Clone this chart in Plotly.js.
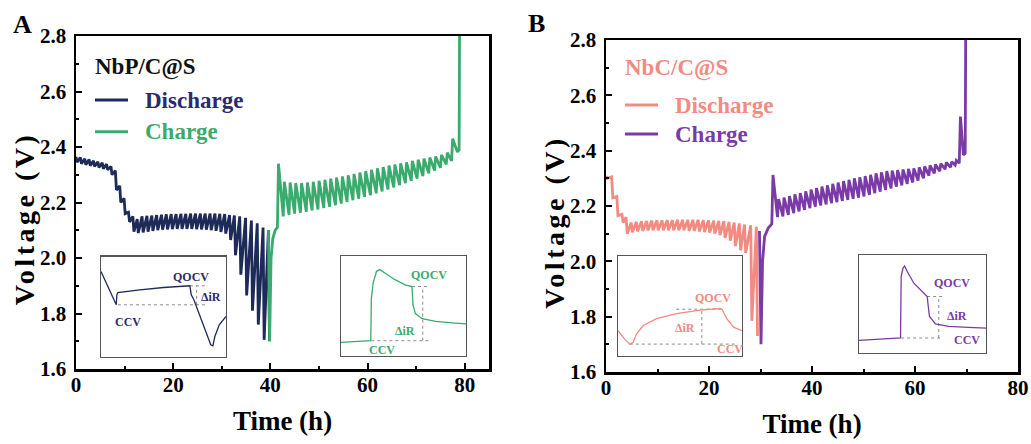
<!DOCTYPE html>
<html>
<head>
<meta charset="utf-8">
<script src="https://cdn.plot.ly/plotly-3.0.1.min.js"></script>
<style>
html,body{margin:0;padding:0;background:#fff;}
#chart{width:1031px;height:444px;}
.ytitle,.y2title{letter-spacing:3.5px;translate:7px 16px;}
</style>
</head>
<body>
<div id="chart"></div>
<script>
// ---------------- Data ----------------
// Panel A: NbP/C@S  — GITT pulses: start time (h), voltage before pulse, voltage at end of pulse
const aDisT   = [0.0,0.9,1.8,2.7,3.6,4.5,5.4,6.3,7.2,8.1,9.0,9.9,10.8,11.7,12.6,13.6,14.6,15.6,16.6,17.6,18.6,19.6,20.6,21.6,22.6,23.6,24.6,25.6,26.6,27.6,28.6,29.6,30.6,31.6,32.6,33.7,34.9,36.1,37.3,38.5,39.6];
const aDisOCV = [2.365,2.362,2.358,2.355,2.350,2.347,2.343,2.338,2.330,2.315,2.260,2.215,2.165,2.150,2.140,2.150,2.152,2.153,2.155,2.156,2.157,2.158,2.158,2.159,2.159,2.160,2.160,2.160,2.160,2.160,2.160,2.159,2.158,2.155,2.153,2.150,2.145,2.135,2.125,2.110,2.100];
const aDisCCV = [2.345,2.340,2.336,2.333,2.330,2.326,2.322,2.318,2.300,2.245,2.200,2.160,2.130,2.095,2.090,2.092,2.095,2.098,2.100,2.102,2.103,2.104,2.105,2.105,2.105,2.105,2.104,2.103,2.102,2.100,2.098,2.094,2.088,2.065,2.010,1.940,1.865,1.810,1.760,1.705,1.700];

const aChgLeadT = [39.6,39.85,40.15,40.5,41.0,41.45];
const aChgLeadV = [2.10,1.70,2.00,2.07,2.10,2.11];
const aChgT   = [41.45,42.65,43.85,45.0,46.2,47.4,48.6,49.8,51.0,52.2,53.4,54.6,55.8,57.0,58.2,59.4,60.6,61.8,63.0,64.2,65.4,66.6,67.8,69.0,70.2,71.4,72.6,73.8,75.0,76.2,77.3];
const aChgOCV = [2.110,2.150,2.155,2.160,2.163,2.167,2.171,2.175,2.180,2.185,2.190,2.196,2.202,2.208,2.214,2.220,2.226,2.233,2.240,2.247,2.254,2.262,2.270,2.278,2.286,2.295,2.305,2.315,2.325,2.337,2.350];
const aChgCCV = [2.340,2.275,2.272,2.270,2.270,2.272,2.275,2.278,2.282,2.286,2.290,2.294,2.298,2.303,2.308,2.313,2.318,2.323,2.328,2.333,2.337,2.341,2.345,2.350,2.354,2.358,2.362,2.366,2.372,2.380,2.430];
const aChgTailT = [78.5,78.85,78.95];
const aChgTailV = [2.382,2.390,2.850];

// Panel B: NbC/C@S
const bDisT   = [0.0,1.1,2.1,3.1,3.9,4.9,5.9,6.9,7.9,8.9,9.9,10.9,11.9,12.9,13.9,14.9,15.9,16.9,17.9,18.9,19.9,20.9,21.9,22.9,23.9,24.9,25.9,26.9,28.1,29.2];
const bDisOCV = [2.308,2.305,2.235,2.170,2.160,2.140,2.143,2.145,2.146,2.147,2.148,2.148,2.149,2.149,2.150,2.150,2.150,2.150,2.150,2.149,2.148,2.147,2.146,2.145,2.143,2.140,2.137,2.133,2.130,2.125];
const bDisCCV = [2.300,2.230,2.165,2.140,2.100,2.105,2.108,2.110,2.112,2.112,2.112,2.112,2.112,2.112,2.112,2.112,2.110,2.110,2.108,2.106,2.104,2.100,2.095,2.085,2.075,2.055,2.040,2.030,1.785,1.730];

const bChgLeadT = [29.8,30.1,30.4,30.8,31.5,32.2];
const bChgLeadV = [2.11,1.70,2.00,2.09,2.12,2.135];
const bChgT   = [32.2,33.3,34.35,35.4,36.45,37.5,38.55,39.6,40.65,41.7,42.75,43.8,44.85,45.9,46.95,48.0,49.05,50.1,51.15,52.2,53.25,54.3,55.35,56.4,57.45,58.5,59.55,60.6,61.65,62.7,63.75,64.8,65.85,66.9,67.8,68.6];
const bChgOCV = [2.135,2.160,2.162,2.168,2.174,2.180,2.186,2.192,2.198,2.202,2.206,2.210,2.214,2.218,2.222,2.226,2.230,2.235,2.240,2.246,2.252,2.258,2.264,2.270,2.275,2.280,2.285,2.292,2.300,2.310,2.318,2.326,2.333,2.340,2.348,2.355];
const bChgCCV = [2.312,2.225,2.230,2.236,2.242,2.247,2.253,2.259,2.265,2.270,2.275,2.280,2.285,2.290,2.295,2.300,2.304,2.308,2.313,2.318,2.322,2.326,2.328,2.330,2.332,2.334,2.336,2.340,2.343,2.347,2.350,2.353,2.357,2.360,2.365,2.523];
const bChgTailT = [69.4,69.75,69.85];
const bChgTailV = [2.385,2.390,2.850];

const pulseHours = 0.22;

// Schematic insets (normalised 0..1 inside each box)
const insA1X = [0,0.122,0.127,0.135,0.311,0.5,0.711,0.722,0.743,0.878,0.895,0.911,0.946,1.0];
const insA1Y = [0.85,0.517,0.617,0.64,0.667,0.69,0.707,0.617,0.567,0.117,0.107,0.2,0.317,0.40];
const insA1GX = [0.135,0.838,null,0.711,0.838,null,0.765,0.765];
const insA1GY = [0.517,0.517,null,0.707,0.707,null,0.517,0.707];

const insA2X = [0,0.238,0.243,0.257,0.284,0.311,0.351,0.432,0.514,0.568,0.576,0.595,0.649,0.757,0.892,1.0];
const insA2Y = [0.136,0.153,0.576,0.729,0.847,0.864,0.83,0.763,0.712,0.695,0.508,0.424,0.373,0.346,0.332,0.322];
const insA2GX = [0.568,0.703,null,0.243,0.703,null,0.654,0.654];
const insA2GY = [0.695,0.695,null,0.153,0.153,null,0.153,0.695];

const insB1X = [0,0.054,0.095,0.122,0.149,0.203,0.311,0.473,0.662,0.824,0.838,0.878,0.932,1.0];
const insB1Y = [0.254,0.169,0.119,0.136,0.22,0.305,0.373,0.424,0.458,0.475,0.468,0.373,0.288,0.254];
const insB1GX = [0.095,0.97,null,0.47,0.83,null,0.676,0.676];
const insB1GY = [0.119,0.119,null,0.468,0.468,null,0.119,0.468];

const insB2X = [0,0.327,0.332,0.346,0.359,0.380,0.432,0.497,0.537,0.545,0.555,0.602,0.707,0.864,1.0];
const insB2Y = [0.129,0.153,0.78,0.864,0.888,0.831,0.712,0.627,0.576,0.48,0.373,0.298,0.271,0.261,0.254];
const insB2GX = [0.537,0.66,null,0.332,0.66,null,0.628,0.628];
const insB2GY = [0.576,0.576,null,0.153,0.153,null,0.153,0.576];

const insetLabels = ['QOCV','ΔiR','CCV'];
const insA1Pos = [[0.716,0.80],[0.878,0.60],[0.213,0.35]];
const insA2Pos = [[0.70,0.814],[0.51,0.254],[0.324,0.061]];
const insB1Pos = [[0.77,0.576],[0.54,0.278],[0.90,0.068]];
const insB2Pos = [[0.733,0.712],[0.77,0.38],[0.85,0.129]];

const sampleA = 'NbP/C@S', sampleB = 'NbC/C@S';
const seriesNames = ['Discharge','Charge'];

// ---------------- Styling ----------------
const W = 1031, H = 444;
const px = v => v / W, py = v => 1 - v / H;
const FONT = 'Liberation Serif, Times New Roman, serif';
const cNavy = '#1e2a58', cNavyTxt = '#2c2a6c', cGreen = '#3aab6d';
const cPink = '#f28b82', cPurple = '#7a3aa8';

function saw(t, v0, v1, leadT, leadV, tailT, tailV) {
  const x = leadT ? leadT.slice(0, -1) : [], y = leadV ? leadV.slice(0, -1) : [];
  for (let i = 0; i < t.length; i++) { x.push(t[i], t[i] + pulseHours); y.push(v0[i], v1[i]); }
  if (tailT) { x.push(...tailT); y.push(...tailV); }
  return {x, y};
}

const aD = saw(aDisT, aDisOCV, aDisCCV);
const aC = saw(aChgT, aChgOCV, aChgCCV, aChgLeadT, aChgLeadV, aChgTailT, aChgTailV);
const bD = saw(bDisT, bDisOCV, bDisCCV);
const bC = saw(bChgT, bChgOCV, bChgCCV, bChgLeadT, bChgLeadV, bChgTailT, bChgTailV);

const LW = 2.8;
const traces = [
  {x: aD.x, y: aD.y, xaxis: 'x', yaxis: 'y', mode: 'lines', name: seriesNames[0], line: {color: cNavy, width: LW}},
  {x: aC.x, y: aC.y, xaxis: 'x', yaxis: 'y', mode: 'lines', name: seriesNames[1], line: {color: cGreen, width: LW}},
  {x: bD.x, y: bD.y, xaxis: 'x2', yaxis: 'y2', mode: 'lines', name: seriesNames[0], line: {color: cPink, width: LW}},
  {x: bC.x, y: bC.y, xaxis: 'x2', yaxis: 'y2', mode: 'lines', name: seriesNames[1], line: {color: cPurple, width: LW}},
];

const insets = [
  {ax: 3, X: insA1X, Y: insA1Y, GX: insA1GX, GY: insA1GY, pos: insA1Pos, color: cNavy, txt: cNavyTxt, dom: [101, 226, 256.5, 356.5]},
  {ax: 4, X: insA2X, Y: insA2Y, GX: insA2GX, GY: insA2GY, pos: insA2Pos, color: cGreen, txt: cGreen, dom: [341, 466, 256, 356]},
  {ax: 5, X: insB1X, Y: insB1Y, GX: insB1GX, GY: insB1GY, pos: insB1Pos, color: cPink, txt: cPink, dom: [618, 742, 256, 356]},
  {ax: 6, X: insB2X, Y: insB2Y, GX: insB2GX, GY: insB2GY, pos: insB2Pos, color: cPurple, txt: cPurple, dom: [859, 986, 255, 353]},
];

const tickFont = {family: FONT, size: 21, color: '#000', weight: 'bold'};
const titleFont = {family: FONT, size: 27, color: '#000', weight: 'bold'};
const yTitleFont = {family: FONT, size: 28, color: '#000', weight: 'bold'};
function mainX(dom, range, anchor) {
  return {domain: dom, range: range, anchor: anchor, showline: true, mirror: true, linewidth: 2.5, linecolor: '#000',
    ticks: 'inside', ticklen: 6, tickwidth: 2, tickcolor: '#000', dtick: 20, tick0: 0,
    minor: {ticks: 'inside', ticklen: 3, tickwidth: 2, dtick: 10, tickcolor: '#000'},
    showgrid: false, zeroline: false, tickfont: tickFont, ticklabelstandoff: -5,
    title: {text: 'Time (h)', font: titleFont, standoff: 16}, fixedrange: true};
}
function mainY(dom, anchor) {
  return {domain: dom, range: [1.6, 2.8], anchor: anchor, showline: true, mirror: true, linewidth: 2.5, linecolor: '#000',
    ticks: 'inside', ticklen: 6, tickwidth: 2, tickcolor: '#000', dtick: 0.2, tick0: 1.6, tickformat: '.1f',
    minor: {ticks: 'inside', ticklen: 3, tickwidth: 2, dtick: 0.1, tickcolor: '#000'},
    showgrid: false, zeroline: false, tickfont: tickFont, ticklabelstandoff: 3,
    title: {text: 'Voltage (V)', font: yTitleFont, standoff: 4}, fixedrange: true};
}

const layout = {
  width: W, height: H, margin: {l: 0, r: 0, t: 0, b: 0}, showlegend: false,
  paper_bgcolor: '#fff', plot_bgcolor: 'rgba(0,0,0,0)',
  xaxis: mainX([px(76), px(489)], [0, 85], 'y'),
  yaxis: mainY([py(369), py(36)], 'x'),
  xaxis2: mainX([px(606), px(1018)], [0, 80], 'y2'),
  yaxis2: mainY([py(372), py(40)], 'x2'),
  annotations: [], shapes: []
};

insets.forEach(ins => {
  const xa = 'xaxis' + ins.ax, ya = 'yaxis' + ins.ax, xr = 'x' + ins.ax, yr = 'y' + ins.ax;
  const common = {showline: true, mirror: true, linewidth: 1.2, linecolor: '#555', ticks: '', showticklabels: false,
    showgrid: false, zeroline: false, fixedrange: true};
  layout[xa] = Object.assign({}, common, {domain: [px(ins.dom[0]), px(ins.dom[1])], range: [0, 1], anchor: yr});
  layout[ya] = Object.assign({}, common, {domain: [py(ins.dom[3]), py(ins.dom[2])], range: [0, 1], anchor: xr});
  traces.push({x: ins.GX, y: ins.GY, xaxis: xr, yaxis: yr, mode: 'lines', line: {color: '#8a8a8a', width: 1, dash: 'dot'}, hoverinfo: 'skip', connectgaps: false});
  traces.push({x: ins.X, y: ins.Y, xaxis: xr, yaxis: yr, mode: 'lines', line: {color: ins.color, width: 1.3}, hoverinfo: 'skip'});
  insetLabels.forEach((lab, k) => {
    layout.annotations.push({text: lab, xref: xr, yref: yr, x: ins.pos[k][0], y: ins.pos[k][1], showarrow: false,
      font: {family: FONT, size: 12, color: ins.txt, weight: 'bold'}, xanchor: 'center', yanchor: 'middle'});
  });
});

// Legend-like labels
function legendBlock(sample, sampleColor, x0, ySample, yD, yC, colD, colDTxt, colC) {
  const f = (c) => ({family: FONT, size: 23, color: c, weight: 'bold'});
  layout.annotations.push({text: sample, xref: 'paper', yref: 'paper', x: px(x0), y: py(ySample), xanchor: 'left', yanchor: 'middle', showarrow: false, font: f(sampleColor)});
  layout.annotations.push({text: seriesNames[0], xref: 'paper', yref: 'paper', x: px(x0 + 50), y: py(yD), xanchor: 'left', yanchor: 'middle', showarrow: false, font: f(colDTxt)});
  layout.annotations.push({text: seriesNames[1], xref: 'paper', yref: 'paper', x: px(x0 + 50), y: py(yC), xanchor: 'left', yanchor: 'middle', showarrow: false, font: f(colC)});
  layout.shapes.push({type: 'line', xref: 'paper', yref: 'paper', x0: px(x0 + 2), x1: px(x0 + 35), y0: py(yD), y1: py(yD), line: {color: colD, width: 3}});
  layout.shapes.push({type: 'line', xref: 'paper', yref: 'paper', x0: px(x0 + 2), x1: px(x0 + 35), y0: py(yC), y1: py(yC), line: {color: colC, width: 3}});
}
legendBlock(sampleA, '#111', 93, 66.7, 100, 131.7, cNavy, cNavyTxt, cGreen);
legendBlock(sampleB, cPink, 623, 68, 105, 134, cPink, cPink, cPurple);

// Panel letters
layout.annotations.push({text: 'A', xref: 'paper', yref: 'paper', x: px(22), y: py(25), xanchor: 'center', yanchor: 'middle', showarrow: false, font: {family: FONT, size: 26, color: '#000', weight: 'bold'}});
layout.annotations.push({text: 'B', xref: 'paper', yref: 'paper', x: px(536), y: py(23), xanchor: 'center', yanchor: 'middle', showarrow: false, font: {family: FONT, size: 26, color: '#000', weight: 'bold'}});

Plotly.newPlot('chart', traces, layout, {staticPlot: true, displayModeBar: false});
</script>
</body>
</html>
